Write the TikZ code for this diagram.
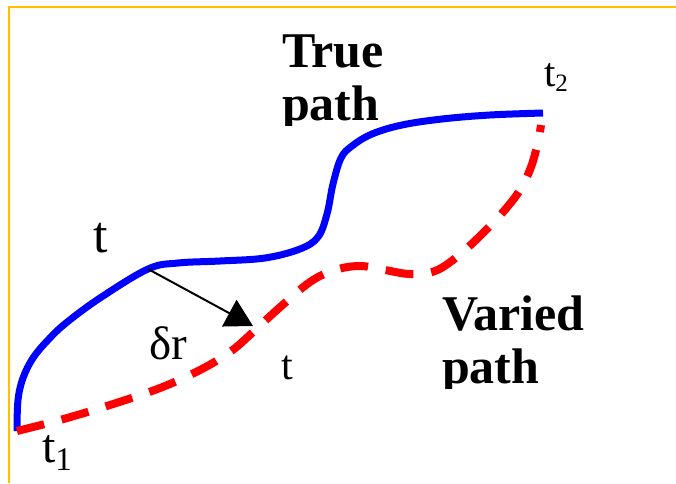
\documentclass[tikz,border=0pt]{standalone}
\usepackage{fontspec}
\setmainfont{Liberation Serif}
\usetikzlibrary{arrows.meta}
\definecolor{Frame}{HTML}{FFC000}
\definecolor{TrueBlue}{HTML}{0000FF}
\definecolor{VarRed}{HTML}{FF0000}
\newcommand{\lowsub}[3]{\raisebox{-#1pt}{\fontsize{#2}{#2}\selectfont #3}}
\tikzset{
 frame/.style={draw=Frame,line width=2.2pt},
 truepath/.style={draw=TrueBlue,line width=7pt},
 varpath/.style={draw=VarRed,line width=8pt,dash pattern=on 28pt off 18pt},
 vararr/.style={-{Triangle[length=27pt,width=30pt]},line width=2pt,draw=black},
 tag/.style={anchor=base west,inner sep=0pt,outer sep=0pt},
 title/.style={tag,font=\bfseries\fontsize{50}{53}\selectfont}
}

\begin{document}
\begin{tikzpicture}[x=1pt,y=-1pt]
\useasboundingbox (0,0) rectangle (676,483);
\draw[frame] (676,7) -- (9,7) -- (9,483);
\coordinate (t1) at (17,431);
\coordinate (t2) at (543,113);
\coordinate (rbase) at (148,269);
\coordinate (rtip) at (253,326);
% true path
\draw[truepath] plot[smooth,tension=0.6] coordinates {(t1) (18,400) (23,378) (33,358) (48,340) (66,323) (100,298) (148,269) (178,263) (220,261) (265,258) (300,249) (318,237) (327,214) (333,184) (341,158) (352,146) (372,134) (402,125) (442,119) (490,115) (t2)};
% varied path
\draw[varpath] plot[smooth,tension=0.6] coordinates {(t1) (60,420) (110,405) (160,388) (200,370) (230,352) (252,333) (278,309) (310,282) (335,270) (360,266) (385,270) (410,274) (435,271) (458,256) (482,234) (503,212) (520,190) (531,167) (538,142) (541,125)};
\draw[vararr] (rbase) -- (rtip);
% labels
\node[tag,font=\fontsize{52}{52}\selectfont] (tup) at (93,252) {t};
\node[tag,font=\fontsize{42}{42}\selectfont] (tlow) at (281,379) {t};
\node[tag,font=\fontsize{47}{47}\selectfont] (dr) at (149,359) {δr};
\node[tag,font=\fontsize{48}{48}\selectfont] (lt1) at (42,462) {t\lowsub{8}{33}{1}};
\node[tag,font=\fontsize{41}{41}\selectfont] (lt2) at (544,86) {t\lowsub{5}{25}{2}};
\begin{scope}
\clip (270,0) rectangle (420,125);
\node[title] (tr1) at (282,67) {True};
\node[title] (tr2) at (282,120) {path};
\end{scope}
\begin{scope}
\clip (430,280) rectangle (620,388);
\node[title] (va1) at (442,330) {Varied};
\node[title] (va2) at (442,383) {path};
\end{scope}
\end{tikzpicture}
\end{document}
